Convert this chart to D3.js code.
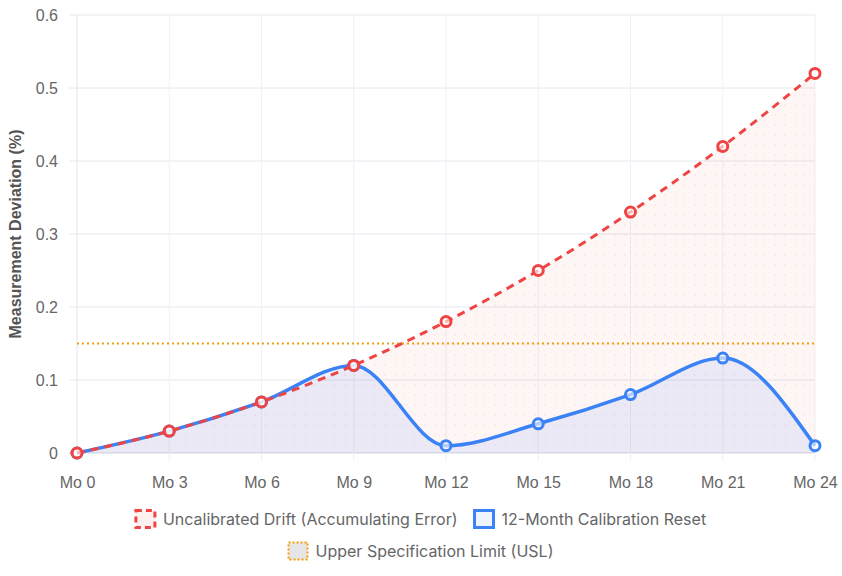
<!DOCTYPE html>
<html>
<head>
<meta charset="utf-8">
<script src="https://cdn.jsdelivr.net/npm/d3@7"></script>
<style>
  body { margin: 0; background: #fff; }
  svg { display: block; }
</style>
</head>
<body>
<svg id="chart" width="842" height="576"></svg>
<script>
const months = ['Mo 0', 'Mo 3', 'Mo 6', 'Mo 9', 'Mo 12', 'Mo 15', 'Mo 18', 'Mo 21', 'Mo 24']
const driftValues = [0, 0.03, 0.07, 0.12, 0.18, 0.25, 0.33, 0.42, 0.52]
const calibratedValues = [0, 0.03, 0.07, 0.12, 0.01, 0.04, 0.08, 0.13, 0.01]
const uslValue = 0.15
const yTicks = [0, 0.1, 0.2, 0.3, 0.4, 0.5, 0.6]
const legendRows = [
  ['Uncalibrated Drift (Accumulating Error)', '12-Month Calibration Reset'],
  ['Upper Specification Limit (USL)']
]

const width = 842, height = 576
const area = {left: 77, right: 815, top: 15, bottom: 453}
const red = '#ef4444', blue = '#3b82f6', orange = '#f59e0b'
const tickFont = 'Liberation Sans, Arial, sans-serif'

const svg = d3.select('#chart')
const defs = svg.append('defs')

// faint dot texture used by the drift fill
const pat = defs.append('pattern').attr('id', 'dots')
  .attr('patternUnits', 'userSpaceOnUse').attr('width', 10).attr('height', 10)
pat.append('rect').attr('width', 10).attr('height', 10).attr('fill', 'rgba(239,68,68,0.05)')
pat.append('circle').attr('cx', 5).attr('cy', 5).attr('r', 0.8).attr('fill', 'rgba(239,68,68,0.13)')

const x = d3.scalePoint().domain(months).range([area.left, area.right])
const y = d3.scaleLinear().domain([0, 0.6]).range([area.bottom, area.top])

// grid
const grid = svg.append('g').attr('class', 'grid')
grid.selectAll('line.h').data(yTicks).enter().append('line')
  .attr('class', 'h')
  .attr('x1', area.left - 8).attr('x2', area.right)
  .attr('y1', d => y(d)).attr('y2', d => y(d))
  .attr('stroke', d => d === 0 ? '#d3d7de' : '#e4e8f0').attr('stroke-width', 1)
grid.selectAll('line.v').data(months).enter().append('line')
  .attr('class', 'v')
  .attr('x1', d => x(d)).attr('x2', d => x(d))
  .attr('y1', area.top).attr('y2', area.bottom + 8)
  .attr('stroke', (d, i) => i === 0 ? '#dfe4ec' : '#eef1f6').attr('stroke-width', 1)

// axes labels
const yAxis = d3.axisLeft(y).tickValues(yTicks).tickSize(0).tickPadding(19)
  .tickFormat(d => d === 0 ? '0' : d3.format('.1f')(d))
svg.append('g').attr('transform', `translate(${area.left},0)`).call(yAxis)
  .call(g => g.select('.domain').remove())
  .call(g => g.selectAll('text').attr('fill', '#666').attr('font-size', 16).attr('font-family', tickFont))

const xAxis = d3.axisBottom(x).tickSize(0).tickPadding(24)
svg.append('g').attr('transform', `translate(0,${area.bottom})`).call(xAxis)
  .call(g => g.select('.domain').remove())
  .call(g => g.selectAll('text').attr('fill', '#666').attr('font-size', 16).attr('font-family', tickFont))

svg.append('text')
  .attr('transform', `translate(21,${(area.top + area.bottom) / 2}) rotate(-90)`)
  .attr('text-anchor', 'middle')
  .attr('font-family', tickFont)
  .attr('font-size', 16).attr('font-weight', 'bold').attr('fill', '#555')
  .text('Measurement Deviation (%)')

const line = d3.line().x((d, i) => x(months[i])).y(d => y(d)).curve(d3.curveMonotoneX)
const fill = d3.area().x((d, i) => x(months[i])).y0(y(0)).y1(d => y(d)).curve(d3.curveMonotoneX)

svg.append('path').attr('d', fill(driftValues)).attr('fill', 'url(#dots)')
svg.append('path').attr('d', fill(calibratedValues)).attr('fill', 'rgba(59,130,246,0.1)')

// USL
svg.append('line')
  .attr('x1', area.left).attr('x2', area.right)
  .attr('y1', y(uslValue)).attr('y2', y(uslValue))
  .attr('stroke', orange).attr('stroke-width', 2).attr('stroke-dasharray', '2,3')

// calibrated line (under drift)
svg.append('path').attr('d', line(calibratedValues))
  .attr('fill', 'none').attr('stroke', blue).attr('stroke-width', 3.5)
svg.append('g').selectAll('circle').data(calibratedValues).enter().append('circle')
  .attr('cx', (d, i) => x(months[i])).attr('cy', d => y(d)).attr('r', 5)
  .attr('fill', 'rgba(255,255,255,0.6)').attr('stroke', blue).attr('stroke-width', 3)

// drift line
svg.append('path').attr('d', line(driftValues))
  .attr('fill', 'none').attr('stroke', red).attr('stroke-width', 3)
  .attr('stroke-dasharray', '8,6')
svg.append('g').selectAll('circle').data(driftValues).enter().append('circle')
  .attr('cx', (d, i) => x(months[i])).attr('cy', d => y(d)).attr('r', 5)
  .attr('fill', 'rgba(255,255,255,0.6)').attr('stroke', red).attr('stroke-width', 3)

// legend
const legendStyle = {
  'Uncalibrated Drift (Accumulating Error)': {stroke: red, fill: '#fdf1f1', dash: '6,4', sw: 3},
  '12-Month Calibration Reset': {stroke: blue, fill: '#eef3fd', dash: null, sw: 3},
  'Upper Specification Limit (USL)': {stroke: orange, fill: '#e6e6e6', dash: '2,2', sw: 2}
}
const boxW = 19, boxH = 17, boxGap = 8, itemGap = 17
const legend = svg.append('g').attr('class', 'legend')
legendRows.forEach((row, r) => {
  const cy = 519 + r * 32
  const items = row.map(label => {
    const g = legend.append('g')
    const txt = g.append('text').attr('y', cy + 5.5)
      .attr('font-family', 'Inter, sans-serif').attr('font-size', 16).attr('fill', '#666')
      .text(label)
    return {label, g, txt, w: txt.node().getComputedTextLength()}
  })
  const total = d3.sum(items, d => boxW + boxGap + d.w) + itemGap * (items.length - 1)
  let cx = (width - total) / 2
  items.forEach(d => {
    const st = legendStyle[d.label]
    d.g.insert('rect', 'text')
      .attr('x', cx).attr('y', cy - boxH / 2).attr('width', boxW).attr('height', boxH)
      .attr('fill', st.fill).attr('stroke', st.stroke).attr('stroke-width', st.sw)
      .attr('stroke-dasharray', st.dash)
    d.txt.attr('x', cx + boxW + boxGap)
    cx += boxW + boxGap + d.w + itemGap
  })
})
</script>
</body>
</html>
